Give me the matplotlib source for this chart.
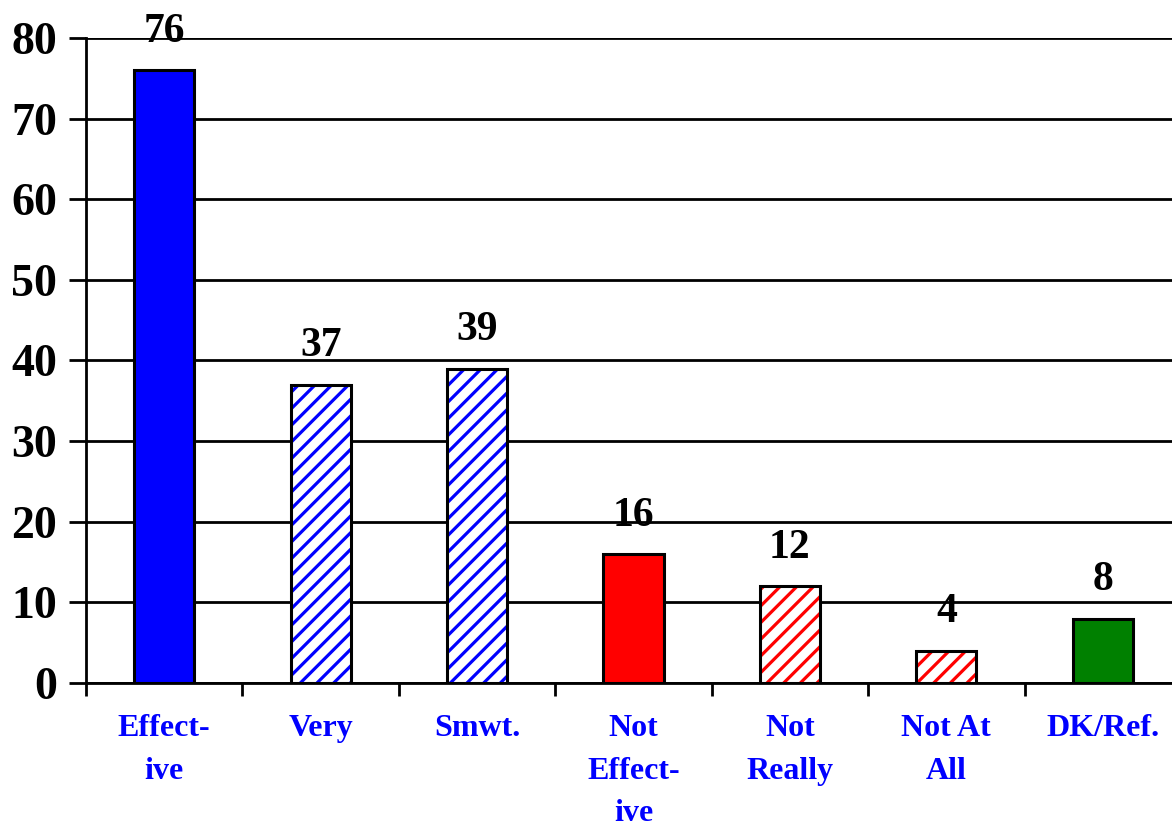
import matplotlib.pyplot as plt

categories = ["Effect-\nive", "Very", "Smwt.", "Not\nEffect-\nive", "Not\nReally", "Not At\nAll", "DK/Ref."]
values = [76, 37, 39, 16, 12, 4, 8]
colors = ["#0000ff", "#0000ff", "#0000ff", "#ff0000", "#ff0000", "#ff0000", "#008000"]
hatched = [False, True, True, False, True, True, False]

plt.rcParams['font.family'] = ['Liberation Serif', 'DejaVu Serif']
plt.rcParams['font.weight'] = 'bold'
plt.rcParams['hatch.linewidth'] = 2.3

fig = plt.figure(figsize=(11.72, 8.26), dpi=100)
ax = fig.add_axes([86 / 1172, 143 / 826, 1095 / 1172, 645 / 826])

width = 0.385
for i, v in enumerate(values):
    if hatched[i]:
        ax.bar(i, v, width, color="white", edgecolor=colors[i], hatch="//", linewidth=0, zorder=3)
        ax.bar(i, v, width, facecolor="none", edgecolor="black", linewidth=2.2, zorder=4)
    else:
        ax.bar(i, v, width, color=colors[i], edgecolor="black", linewidth=2.2, zorder=3)
    ax.annotate(str(v), (i, v), xytext=(0, 14), textcoords="offset points",
                ha="center", va="bottom", fontsize=30, fontweight="bold")

ax.set_ylim(0, 80)
ax.set_xlim(-0.5, len(values) - 0.5)
ax.set_yticks(range(0, 81, 10))
ax.tick_params(axis="y", labelsize=33, length=12, width=2, pad=9)
ax.yaxis.grid(True, color="black", linewidth=2, zorder=0)
ax.set_axisbelow(True)

# category boundaries as x ticks, labels placed as text below
ax.set_xticks([i - 0.5 for i in range(len(values) + 1)])
ax.set_xticklabels([])
ax.tick_params(axis="x", length=9, width=2)
for i, c in enumerate(categories):
    ax.text(i, -3.9, c, ha="center", va="top", color="#0000ff", fontsize=23,
            fontweight="bold", linespacing=1.6)

for s in ["top", "right"]:
    ax.spines[s].set_visible(False)
for s in ["left", "bottom"]:
    ax.spines[s].set_linewidth(2)

fig.savefig("out.png", dpi=100)
